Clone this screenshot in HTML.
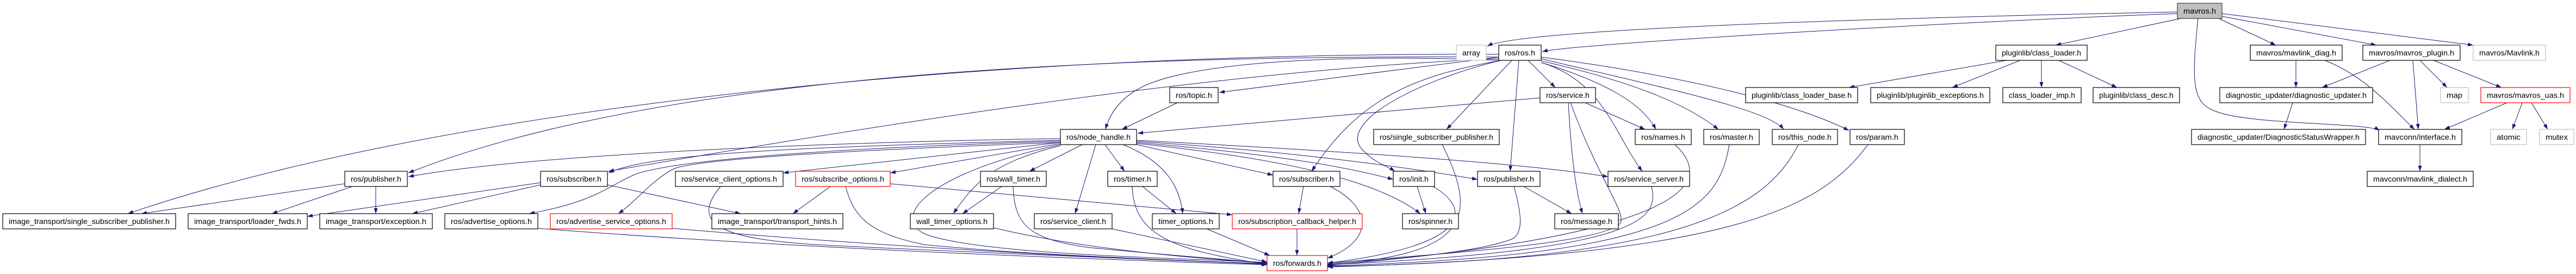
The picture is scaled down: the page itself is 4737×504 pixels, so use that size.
<!DOCTYPE html>
<html><head><meta charset="utf-8"><style>
html,body{margin:0;padding:0;background:#fff;}
svg{display:block;}
text{font-family:"Liberation Sans",sans-serif;font-size:14px;fill:#000;}
.n rect{fill:#fff;stroke:#000;stroke-width:1.2;}
.g rect{fill:#fff;stroke:#bfbfbf;stroke-width:1.2;}
.r rect{fill:#fff;stroke:#ff0000;stroke-width:1.2;}
.e path{fill:none;stroke:#191970;stroke-width:1;marker-end:url(#a);}
</style></head><body>
<svg width="4737" height="504" viewBox="0 0 4737 504" xmlns="http://www.w3.org/2000/svg">
<defs><marker id="a" markerUnits="userSpaceOnUse" markerWidth="11" markerHeight="8" refX="10" refY="3.5" orient="auto"><path d="M0,0 L10,3.5 L0,7 z" fill="#191970"/></marker></defs>
<g class="e">
<path d="M4004 22 C3600 30 2800 50 2735 85"/>
<path d="M4004 25 C3600 40 2900 80 2836 95"/>
<path d="M4010 34 L3780 83"/>
<path d="M4080 34 L4185 83"/>
<path d="M4086 30 L4370 83"/>
<path d="M4086 25 L4548 83"/>
<path d="M4042 34 C4030 150 4030 190 4075 205 C4140 230 4350 225 4376 240"/>
<path d="M2756 105 L2242 170"/>
<path d="M2760 111 C2500 100 2200 110 2100 160 C2060 180 2040 210 2033 238"/>
<path d="M2832 180 L2092 245"/>
<path d="M2810 111 L2860 161"/>
<path d="M2780 111 L2660 238"/>
<path d="M2760 111 C2600 140 2500 180 2412 315"/>
<path d="M2760 111 C2600 150 2450 230 2510 280 C2530 300 2550 305 2565 315"/>
<path d="M2793 111 L2777 315"/>
<path d="M2834 115 C2950 150 3020 190 3045 238"/>
<path d="M2834 112 C3000 150 3100 190 3160 238"/>
<path d="M2834 108 C3050 160 3250 200 3280 238"/>
<path d="M2834 105 C3100 140 3300 190 3400 240"/>
<path d="M2834 115 C2950 150 2970 250 3020 315"/>
<path d="M2756 105 C2000 100 1200 140 751 318"/>
<path d="M2756 108 C2200 130 1500 250 1119 315"/>
<path d="M2756 100 C1800 95 800 200 235 393"/>
<path d="M2165 189 L2063 238"/>
<path d="M2915 189 L3025 238"/>
<path d="M2884 189 C2890 300 2900 360 2910 393"/>
<path d="M2888 189 C2940 330 2990 390 2980 410 C2950 450 2600 470 2441 484"/>
<path d="M1950 255 C1600 260 1000 280 751 325"/>
<path d="M1950 258 C1500 270 1200 280 1119 318"/>
<path d="M1950 262 L1440 318"/>
<path d="M1950 264 L1637 318"/>
<path d="M1990 266 L1893 315"/>
<path d="M2032 266 L2068 315"/>
<path d="M2015 266 L1977 393"/>
<path d="M2065 266 C2150 300 2170 350 2175 393"/>
<path d="M1950 268 C1820 300 1790 340 1753 393"/>
<path d="M1950 260 C1600 270 1260 290 1170 320 C1120 340 1100 370 973 393"/>
<path d="M1950 262 C1600 275 1300 290 1240 310 C1200 330 1170 370 1137 393"/>
<path d="M2090 266 L2341 322"/>
<path d="M2090 262 C2300 280 2450 300 2562 330"/>
<path d="M2090 260 C2400 280 2600 310 2717 330"/>
<path d="M2090 258 C2500 280 2800 300 2957 325"/>
<path d="M2090 264 C2350 290 2530 330 2612 393"/>
<path d="M1950 266 C1700 320 1640 400 1700 430 C1800 470 2200 475 2330 483"/>
<path d="M1527 343 L1458 393"/>
<path d="M1637 338 L2266 395"/>
<path d="M1555 343 C1570 400 1600 430 1700 450 C1900 470 2200 480 2330 485"/>
<path d="M994 336 L565 398"/>
<path d="M994 340 L758 393"/>
<path d="M1117 340 L1362 393"/>
<path d="M634 338 L260 393"/>
<path d="M648 343 L500 393"/>
<path d="M691 343 L691 393"/>
<path d="M1842 343 L1770 393"/>
<path d="M1863 343 C1865 420 1900 440 2000 455 C2150 470 2300 480 2330 485"/>
<path d="M2101 343 L2163 393"/>
<path d="M2082 343 C2085 430 2150 460 2330 486"/>
<path d="M2397 343 L2388 393"/>
<path d="M2446 343 C2520 380 2530 440 2441 475"/>
<path d="M2385 421 L2385 470"/>
<path d="M2606 343 L2622 393"/>
<path d="M2635 343 C2700 380 2720 450 2441 484"/>
<path d="M2802 343 L2890 393"/>
<path d="M2784 343 C2800 400 2800 430 2780 440 C2700 470 2500 480 2441 486"/>
<path d="M3037 343 C3050 400 3030 460 2441 487"/>
<path d="M3080 266 C3150 330 3130 430 2441 488"/>
<path d="M3180 266 C3160 380 3100 470 2441 489"/>
<path d="M3307 266 C3250 380 3100 480 2441 490"/>
<path d="M3435 266 C3350 380 3200 470 2441 491"/>
<path d="M2652 266 C2720 400 2700 470 2441 486"/>
<path d="M989 420 C1500 460 2100 480 2330 487"/>
<path d="M1236 420 C1700 460 2100 478 2330 485"/>
<path d="M1325 343 C1260 420 1350 440 1500 450 C1900 470 2200 480 2330 486"/>
<path d="M1827 419 C2000 460 2200 475 2330 484"/>
<path d="M2045 421 L2330 482"/>
<path d="M2219 421 L2335 470"/>
<path d="M3690 111 L3400 161"/>
<path d="M3715 111 L3590 161"/>
<path d="M3754 111 L3754 161"/>
<path d="M3786 111 L3893 161"/>
<path d="M4222 111 L4222 161"/>
<path d="M4275 111 C4350 140 4400 200 4440 238"/>
<path d="M4395 111 L4270 161"/>
<path d="M4437 111 L4447 238"/>
<path d="M4450 111 L4500 161"/>
<path d="M4475 111 L4600 161"/>
<path d="M4610 189 L4495 238"/>
<path d="M4638 189 L4620 238"/>
<path d="M4655 189 L4685 238"/>
<path d="M4216 189 L4200 238"/>
<path d="M4450 266 L4450 315"/>
</g>
<g><rect x="4004" y="6" width="82" height="28" fill="#bfbfbf" stroke="#404040" stroke-width="1.2"/><text x="4015" y="25" textLength="60" lengthAdjust="spacingAndGlyphs">mavros.h</text></g>
<g class="g"><rect x="2678" y="83" width="55" height="28"/><text x="2689" y="102" textLength="33" lengthAdjust="spacingAndGlyphs">array</text></g>
<g class="n"><rect x="2756" y="83" width="78" height="28"/><text x="2767" y="102" textLength="56" lengthAdjust="spacingAndGlyphs">ros/ros.h</text></g>
<g class="n"><rect x="3670" y="83" width="168" height="28"/><text x="3681" y="102" textLength="146" lengthAdjust="spacingAndGlyphs">pluginlib/class_loader.h</text></g>
<g class="n"><rect x="4138" y="83" width="169" height="28"/><text x="4149" y="102" textLength="147" lengthAdjust="spacingAndGlyphs">mavros/mavlink_diag.h</text></g>
<g class="n"><rect x="4345" y="83" width="179" height="28"/><text x="4356" y="102" textLength="157" lengthAdjust="spacingAndGlyphs">mavros/mavros_plugin.h</text></g>
<g class="g"><rect x="4548" y="83" width="133" height="28"/><text x="4559" y="102" textLength="111" lengthAdjust="spacingAndGlyphs">mavros/Mavlink.h</text></g>
<g class="n"><rect x="2151" y="161" width="89" height="28"/><text x="2162" y="180" textLength="67" lengthAdjust="spacingAndGlyphs">ros/topic.h</text></g>
<g class="n"><rect x="2832" y="161" width="102" height="28"/><text x="2843" y="180" textLength="80" lengthAdjust="spacingAndGlyphs">ros/service.h</text></g>
<g class="n"><rect x="3210" y="161" width="206" height="28"/><text x="3221" y="180" textLength="184" lengthAdjust="spacingAndGlyphs">pluginlib/class_loader_base.h</text></g>
<g class="n"><rect x="3440" y="161" width="219" height="28"/><text x="3451" y="180" textLength="197" lengthAdjust="spacingAndGlyphs">pluginlib/pluginlib_exceptions.h</text></g>
<g class="n"><rect x="3683" y="161" width="144" height="28"/><text x="3694" y="180" textLength="122" lengthAdjust="spacingAndGlyphs">class_loader_imp.h</text></g>
<g class="n"><rect x="3849" y="161" width="159" height="28"/><text x="3860" y="180" textLength="137" lengthAdjust="spacingAndGlyphs">pluginlib/class_desc.h</text></g>
<g class="n"><rect x="4082" y="161" width="281" height="28"/><text x="4093" y="180" textLength="259" lengthAdjust="spacingAndGlyphs">diagnostic_updater/diagnostic_updater.h</text></g>
<g class="g"><rect x="4488" y="161" width="51" height="28"/><text x="4499" y="180" textLength="29" lengthAdjust="spacingAndGlyphs">map</text></g>
<g class="r"><rect x="4562" y="161" width="164" height="28"/><text x="4573" y="180" textLength="142" lengthAdjust="spacingAndGlyphs">mavros/mavros_uas.h</text></g>
<g class="n"><rect x="1950" y="238" width="140" height="28"/><text x="1961" y="257" textLength="118" lengthAdjust="spacingAndGlyphs">ros/node_handle.h</text></g>
<g class="n"><rect x="2526" y="238" width="231" height="28"/><text x="2537" y="257" textLength="209" lengthAdjust="spacingAndGlyphs">ros/single_subscriber_publisher.h</text></g>
<g class="n"><rect x="3007" y="238" width="103" height="28"/><text x="3018" y="257" textLength="81" lengthAdjust="spacingAndGlyphs">ros/names.h</text></g>
<g class="n"><rect x="3133" y="238" width="102" height="28"/><text x="3144" y="257" textLength="80" lengthAdjust="spacingAndGlyphs">ros/master.h</text></g>
<g class="n"><rect x="3259" y="238" width="120" height="28"/><text x="3270" y="257" textLength="98" lengthAdjust="spacingAndGlyphs">ros/this_node.h</text></g>
<g class="n"><rect x="3402" y="238" width="100" height="28"/><text x="3413" y="257" textLength="78" lengthAdjust="spacingAndGlyphs">ros/param.h</text></g>
<g class="n"><rect x="4030" y="238" width="320" height="28"/><text x="4041" y="257" textLength="298" lengthAdjust="spacingAndGlyphs">diagnostic_updater/DiagnosticStatusWrapper.h</text></g>
<g class="n"><rect x="4374" y="238" width="153" height="28"/><text x="4385" y="257" textLength="131" lengthAdjust="spacingAndGlyphs">mavconn/interface.h</text></g>
<g class="g"><rect x="4580" y="238" width="66" height="28"/><text x="4591" y="257" textLength="44" lengthAdjust="spacingAndGlyphs">atomic</text></g>
<g class="g"><rect x="4670" y="238" width="63" height="28"/><text x="4681" y="257" textLength="41" lengthAdjust="spacingAndGlyphs">mutex</text></g>
<g class="n"><rect x="634" y="315" width="115" height="28"/><text x="645" y="334" textLength="93" lengthAdjust="spacingAndGlyphs">ros/publisher.h</text></g>
<g class="n"><rect x="994" y="315" width="123" height="28"/><text x="1005" y="334" textLength="101" lengthAdjust="spacingAndGlyphs">ros/subscriber.h</text></g>
<g class="n"><rect x="1242" y="315" width="198" height="28"/><text x="1253" y="334" textLength="176" lengthAdjust="spacingAndGlyphs">ros/service_client_options.h</text></g>
<g class="r"><rect x="1463" y="315" width="174" height="28"/><text x="1474" y="334" textLength="152" lengthAdjust="spacingAndGlyphs">ros/subscribe_options.h</text></g>
<g class="n"><rect x="1803" y="315" width="121" height="28"/><text x="1814" y="334" textLength="99" lengthAdjust="spacingAndGlyphs">ros/wall_timer.h</text></g>
<g class="n"><rect x="2037" y="315" width="91" height="28"/><text x="2048" y="334" textLength="69" lengthAdjust="spacingAndGlyphs">ros/timer.h</text></g>
<g class="n"><rect x="2341" y="315" width="123" height="28"/><text x="2352" y="334" textLength="101" lengthAdjust="spacingAndGlyphs">ros/subscriber.h</text></g>
<g class="n"><rect x="2562" y="315" width="76" height="28"/><text x="2573" y="334" textLength="54" lengthAdjust="spacingAndGlyphs">ros/init.h</text></g>
<g class="n"><rect x="2717" y="315" width="115" height="28"/><text x="2728" y="334" textLength="93" lengthAdjust="spacingAndGlyphs">ros/publisher.h</text></g>
<g class="n"><rect x="2957" y="315" width="150" height="28"/><text x="2968" y="334" textLength="128" lengthAdjust="spacingAndGlyphs">ros/service_server.h</text></g>
<g class="n"><rect x="4353" y="315" width="195" height="28"/><text x="4364" y="334" textLength="173" lengthAdjust="spacingAndGlyphs">mavconn/mavlink_dialect.h</text></g>
<g class="n"><rect x="5" y="393" width="318" height="28"/><text x="16" y="412" textLength="296" lengthAdjust="spacingAndGlyphs">image_transport/single_subscriber_publisher.h</text></g>
<g class="n"><rect x="346" y="393" width="219" height="28"/><text x="357" y="412" textLength="197" lengthAdjust="spacingAndGlyphs">image_transport/loader_fwds.h</text></g>
<g class="n"><rect x="588" y="393" width="207" height="28"/><text x="599" y="412" textLength="185" lengthAdjust="spacingAndGlyphs">image_transport/exception.h</text></g>
<g class="n"><rect x="818" y="393" width="171" height="28"/><text x="829" y="412" textLength="149" lengthAdjust="spacingAndGlyphs">ros/advertise_options.h</text></g>
<g class="r"><rect x="1012" y="393" width="224" height="28"/><text x="1023" y="412" textLength="202" lengthAdjust="spacingAndGlyphs">ros/advertise_service_options.h</text></g>
<g class="n"><rect x="1309" y="393" width="241" height="28"/><text x="1320" y="412" textLength="219" lengthAdjust="spacingAndGlyphs">image_transport/transport_hints.h</text></g>
<g class="n"><rect x="1674" y="393" width="153" height="28"/><text x="1685" y="412" textLength="131" lengthAdjust="spacingAndGlyphs">wall_timer_options.h</text></g>
<g class="n"><rect x="1902" y="393" width="143" height="28"/><text x="1913" y="412" textLength="121" lengthAdjust="spacingAndGlyphs">ros/service_client.h</text></g>
<g class="n"><rect x="2119" y="393" width="123" height="28"/><text x="2130" y="412" textLength="101" lengthAdjust="spacingAndGlyphs">timer_options.h</text></g>
<g class="r"><rect x="2266" y="393" width="239" height="28"/><text x="2277" y="412" textLength="217" lengthAdjust="spacingAndGlyphs">ros/subscription_callback_helper.h</text></g>
<g class="n"><rect x="2579" y="393" width="103" height="28"/><text x="2590" y="412" textLength="81" lengthAdjust="spacingAndGlyphs">ros/spinner.h</text></g>
<g class="n"><rect x="2859" y="393" width="117" height="28"/><text x="2870" y="412" textLength="95" lengthAdjust="spacingAndGlyphs">ros/message.h</text></g>
<g class="r"><rect x="2330" y="470" width="111" height="28"/><text x="2341" y="489" textLength="89" lengthAdjust="spacingAndGlyphs">ros/forwards.h</text></g>
</svg>
</body></html>
